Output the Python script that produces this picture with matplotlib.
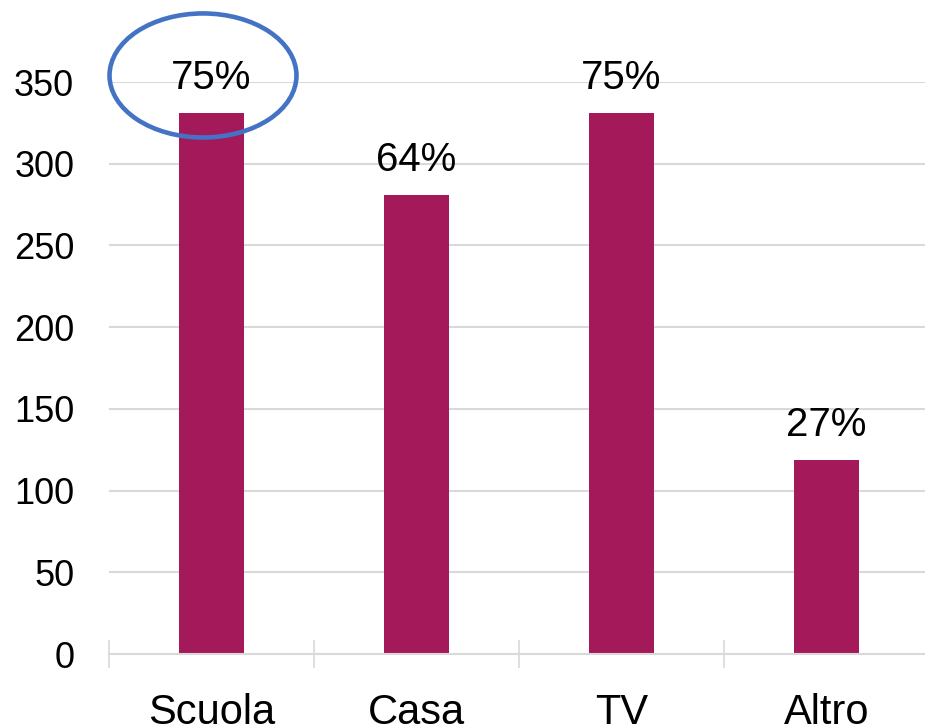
import matplotlib
matplotlib.use("Agg")
import matplotlib.pyplot as plt
from matplotlib.patches import Ellipse

categories = ["Scuola", "Casa", "TV", "Altro"]
values = [331, 281, 331, 119]
labels = ["75%", "64%", "75%", "27%"]
yticks = [0, 50, 100, 150, 200, 250, 300, 350]

plt.rcParams['font.family'] = ['Liberation Sans', 'DejaVu Sans']

fig = plt.figure(figsize=(9.25, 7.24), dpi=100)
left = 109 / 925
width = (929 - 109) / 925
bottom = 1 - 654 / 724
height = (654 - 82) / 724
ax = fig.add_axes([left, bottom, width, height])

x = list(range(len(categories)))
ax.bar(x, values, width=0.315, color="#A4195A", zorder=3)

for xi, v, lab in zip(x, values, labels):
    ax.annotate(lab, (xi, v), xytext=(0, 17), textcoords="offset points",
                ha="center", va="baseline", fontsize=29, color="black",
                annotation_clip=False)

ax.set_xlim(-0.5, len(categories) - 0.5)
ax.set_ylim(0, 350)
ax.set_yticks(yticks)
ax.set_yticklabels([str(t) for t in yticks], fontsize=26)
ax.set_xticks(x)
ax.set_xticklabels(categories, fontsize=30)
ax.set_xticks([i - 0.5 for i in range(len(categories) + 1)], minor=True)

ax.tick_params(axis="y", length=0, pad=25)
ax.tick_params(axis="x", which="major", length=0, pad=28)
ax.tick_params(axis="x", which="minor", direction="inout", length=19.5,
               width=1.2, color="#D9D9D9")

ax.grid(axis="y", color="#D9D9D9", linewidth=1.5, zorder=0)
for s in ["top", "right", "left"]:
    ax.spines[s].set_visible(False)
ax.spines["bottom"].set_color("#D9D9D9")
ax.spines["bottom"].set_linewidth(1.5)
ax.spines["bottom"].set_zorder(4)

ell = Ellipse((-0.0415, 354), 0.912, 75.9, fill=False, edgecolor="#4472C4",
              linewidth=3.3, clip_on=False, zorder=5)
ax.add_patch(ell)

fig.savefig("out.png", dpi=100)
